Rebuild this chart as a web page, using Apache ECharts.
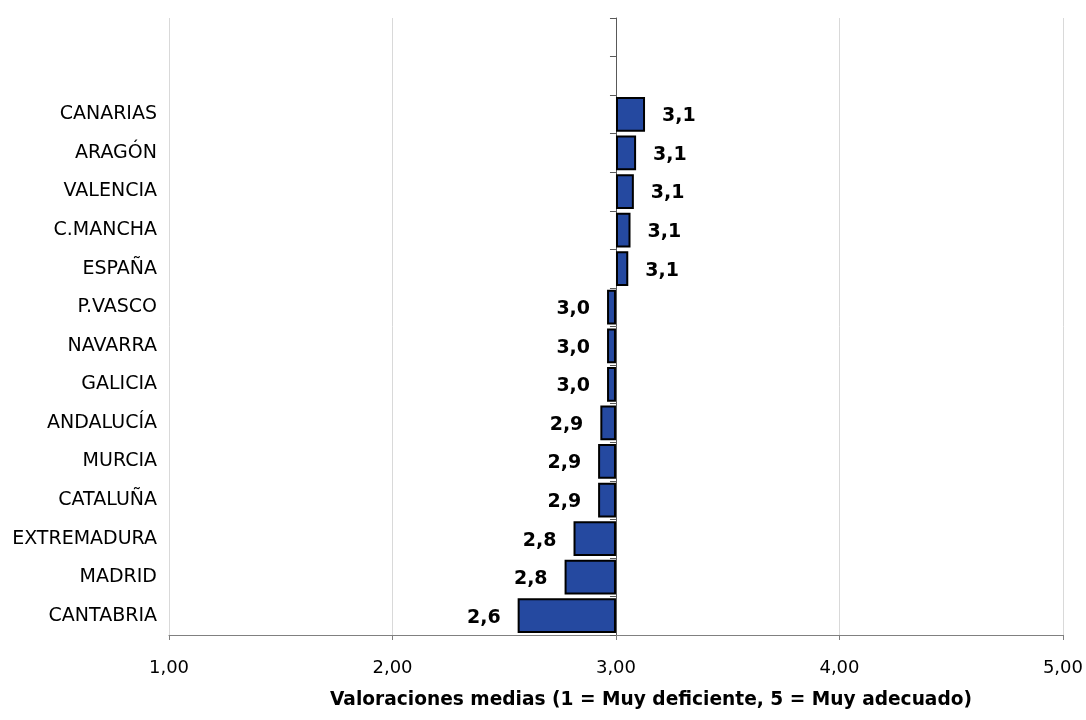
<!DOCTYPE html>
<html>
<head>
<meta charset="utf-8">
<script src="https://cdn.jsdelivr.net/npm/echarts@6/dist/echarts.min.js"></script>
<style>html,body{margin:0;padding:0;background:#fff}#c{width:1086px;height:720px}</style>
</head>
<body>
<div id="c"></div>
<script>
// Categories listed top to bottom (two empty slots at the top)
const categories = ['', '', 'CANARIAS', 'ARAGÓN', 'VALENCIA', 'C.MANCHA', 'ESPAÑA', 'P.VASCO', 'NAVARRA', 'GALICIA', 'ANDALUCÍA', 'MURCIA', 'CATALUÑA', 'EXTREMADURA', 'MADRID', 'CANTABRIA'];
const values = [null, null, 3.13, 3.09, 3.08, 3.065, 3.055, 2.96, 2.96, 2.96, 2.93, 2.92, 2.92, 2.81, 2.77, 2.56];
const baseline = 3;
const tickValues = [1, 2, 3, 4, 5];
const axisTitle = 'Valoraciones medias (1 = Muy deficiente, 5 = Muy adecuado)';

const fmt1 = v => (Math.round(v * 10) / 10).toFixed(1).replace('.', ',');
const fmt2 = v => v.toFixed(2).replace('.', ',');

const seriesData = values.map(v => v == null ? null : {
  value: v - baseline,
  label: { position: v >= baseline ? 'right' : 'left', formatter: () => fmt1(v) }
});

const chart = echarts.init(document.getElementById('c'), null, { renderer: 'canvas' });
chart.setOption({
  animation: false,
  backgroundColor: '#ffffff',
  grid: { left: 169, right: 23, top: 18, bottom: 85, containLabel: false },
  xAxis: {
    type: 'value',
    min: tickValues[0] - baseline,
    max: tickValues[tickValues.length - 1] - baseline,
    interval: 1,
    axisLine: { show: true, onZero: false, lineStyle: { color: '#808080', width: 1 } },
    axisTick: { show: true, length: 5, lineStyle: { color: '#808080' } },
    splitLine: { show: true, lineStyle: { color: '#d9d9d9', width: 1 } },
    axisLabel: { formatter: v => fmt2(v + baseline), color: '#000', fontFamily: 'DejaVu Sans', fontSize: 18, margin: 24 },
    name: axisTitle,
    nameLocation: 'middle',
    nameGap: 56,
    nameTextStyle: { color: '#000', fontFamily: 'DejaVu Sans', fontWeight: 'bold', fontSize: 18.6, padding: [0, 0, 0, 70] }
  },
  yAxis: [
    {
      type: 'category',
      data: categories,
      inverse: true,
      position: 'left',
      axisLine: { show: false, onZero: false },
      axisTick: { show: false },
      axisLabel: { color: '#000', fontFamily: 'DejaVu Sans', fontSize: 19, margin: 12, padding: [4, 0, 0, 0] },
      splitLine: { show: false }
    },
    {
      type: 'category',
      data: categories,
      inverse: true,
      position: 'left',
      axisLine: { show: true, onZero: true, lineStyle: { color: '#595959', width: 1 } },
      axisTick: { show: true, length: 6, inside: false, lineStyle: { color: '#595959' } },
      axisLabel: { show: false },
      splitLine: { show: false }
    }
  ],
  series: [{
    type: 'bar',
    yAxisIndex: 0,
    data: seriesData,
    barCategoryGap: '10%',
    itemStyle: { color: '#2549A0', borderColor: '#000', borderWidth: 2 },
    label: { show: true, distance: 17, offset: [0, 2], color: '#000', fontFamily: 'DejaVu Sans', fontWeight: 'bold', fontSize: 19 }
  }]
});
</script>
</body>
</html>
